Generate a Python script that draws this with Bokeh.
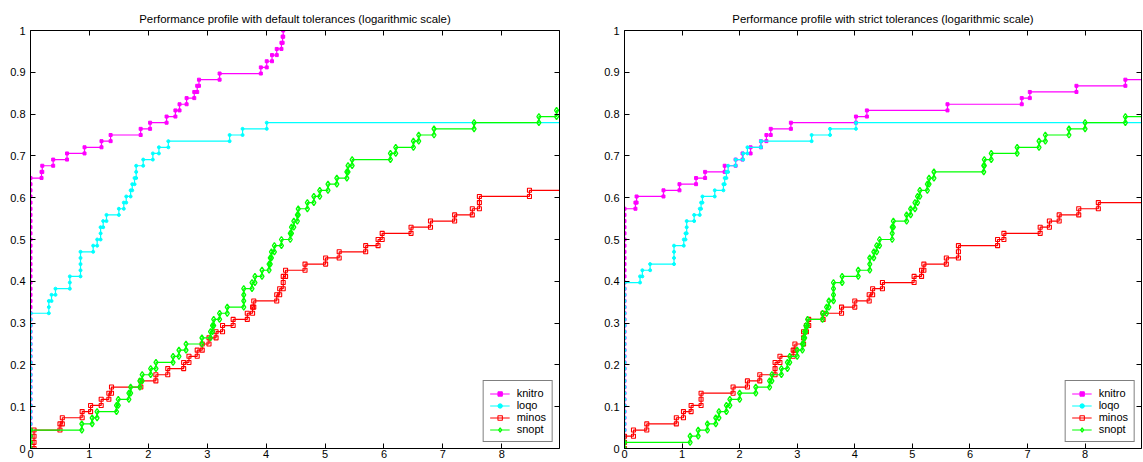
from bokeh.plotting import figure
from bokeh.models import Range1d, LinearAxis, FixedTicker, Legend, LegendItem
from bokeh.layouts import row
from bokeh.embed import file_html
from bokeh.resources import INLINE

N_PROBLEMS = 68
solvers = ["knitro", "loqo", "minos", "snopt"]
solver_colors = ["#ff00ff", "#00ffff", "#ff0000", "#00ff00"]

titles = ["Performance profile with default tolerances (logarithmic scale)",
          "Performance profile with strict tolerances (logarithmic scale)"]

x_ticks_default = [0, 1, 2, 3, 4, 5, 6, 7, 8]
x_ticks_strict = [0, 1, 2, 3, 4, 5, 6, 7, 8, 9]
y_ticks = [0, 0.1, 0.2, 0.3, 0.4, 0.5, 0.6, 0.7, 0.8, 0.9, 1]
y_tick_labels = ["0", "0.1", "0.2", "0.3", "0.4", "0.5", "0.6", "0.7", "0.8", "0.9", "1"]

# ---- default tolerances: log2 ratio where step occurs, cumulative problems solved
knitro_def_x = [0, 0.187, 0.20, 0.385, 0.62, 0.917, 1.205, 1.36, 1.87, 2.03, 2.31, 2.46, 2.53,
                2.65, 2.78, 2.83, 2.86, 3.21, 3.91, 4.01, 4.10, 4.18, 4.26, 4.28, 4.29]
knitro_def_n = [44, 45, 46, 47, 48, 49, 50, 51, 52, 53, 54, 55, 56, 57, 58, 59, 60, 61, 62, 63,
                64, 65, 66, 67, 68]
loqo_def_x = [0, 0.311, 0.357, 0.424, 0.668, 0.849, 1.064, 1.132, 1.19, 1.234, 1.29, 1.50, 1.584,
              1.625, 1.70, 1.727, 1.766, 1.794, 1.913, 2.077, 2.18, 2.34, 3.38, 3.60, 4.01]
loqo_def_n = [22, 24, 25, 26, 28, 32, 33, 34, 36, 37, 38, 39, 40, 41, 42, 43, 44, 46, 47, 48, 49,
              50, 51, 52, 53]
minos_def_x = [0.06, 0.50, 0.54, 0.877, 1.02, 1.20, 1.33, 1.375, 1.873, 2.128, 2.33, 2.60, 2.69,
               2.83, 2.915, 3.03, 3.15, 3.26, 3.44, 3.68, 3.77, 3.79, 4.18, 4.23, 4.29, 4.33, 4.66,
               5.01, 5.24, 5.69, 5.90, 5.97, 6.46, 6.79, 7.20, 7.50, 7.62, 8.47]
minos_def_n = [3, 4, 5, 6, 7, 8, 9, 10, 11, 12, 13, 14, 15, 16, 17, 18, 19, 20, 21, 22, 23, 24,
               25, 26, 28, 29, 30, 31, 32, 33, 34, 35, 36, 37, 38, 39, 41, 42]
snopt_def_x = [0, 0.871, 1.047, 1.13, 1.46, 1.49, 1.67, 1.70, 1.856, 1.896, 2.04, 2.13, 2.42, 2.52,
               2.64, 2.91, 3.056, 3.09, 3.11, 3.21, 3.34, 3.62, 3.76, 3.81, 3.93, 4.05, 4.07, 4.09,
               4.14, 4.26, 4.41, 4.43, 4.47, 4.53, 4.545, 4.70, 4.81, 4.91, 5.05, 5.20, 5.37, 5.39,
               5.46, 6.11, 6.20, 6.50, 6.59, 6.85, 7.53, 8.63, 8.93]
snopt_def_n = [3, 4, 5, 6, 7, 8, 9, 10, 11, 12, 13, 14, 15, 16, 17, 18, 19, 20, 21, 22, 23, 26,
               27, 28, 29, 30, 31, 32, 33, 34, 35, 36, 37, 38, 39, 40, 41, 42, 43, 44, 45, 46, 47,
               48, 49, 50, 51, 52, 53, 54, 55]

# ---- strict tolerances
knitro_str_x = [0, 0.19, 0.21, 0.677, 0.955, 1.243, 1.40, 1.74, 1.93, 2.05, 2.19, 2.37, 2.465,
                2.54, 2.89, 4.02, 4.21, 5.61, 6.90, 7.04, 7.85, 8.70]
knitro_str_n = [39, 40, 41, 42, 43, 44, 45, 46, 47, 48, 49, 50, 51, 52, 53, 54, 55, 56, 57, 58,
                59, 60]
loqo_str_x = [0, 0.27, 0.31, 0.445, 0.86, 1.03, 1.06, 1.08, 1.21, 1.307, 1.33, 1.354, 1.568,
              1.718, 1.74, 1.77, 1.80, 1.93, 2.06, 2.135, 2.37, 3.25, 3.57, 4.02]
loqo_str_n = [27, 28, 29, 30, 33, 34, 35, 37, 38, 39, 40, 41, 42, 43, 44, 45, 46, 47, 48, 49, 50,
              51, 52, 53]
minos_str_x = [0, 0.156, 0.387, 0.90, 1.024, 1.157, 1.33, 1.886, 2.135, 2.35, 2.615, 2.70, 2.93,
               2.96, 3.11, 3.16, 3.20, 3.45, 3.77, 4.00, 4.25, 4.31, 4.48, 5.03, 5.16, 5.20, 5.59,
               5.80, 6.48, 6.59, 7.22, 7.38, 7.55, 7.89, 8.23]
minos_str_n = [2, 3, 4, 5, 6, 7, 9, 10, 11, 12, 14, 15, 16, 17, 19, 20, 21, 22, 23, 24, 25, 26,
               27, 28, 29, 30, 31, 33, 34, 35, 36, 37, 38, 39, 40]
snopt_str_x = [0, 1.14, 1.28, 1.44, 1.585, 1.64, 1.77, 1.83, 2.00, 2.28, 2.52, 2.56, 2.725, 2.83,
               2.87, 3.00, 3.09, 3.11, 3.13, 3.15, 3.18, 3.44, 3.51, 3.55, 3.63, 3.78, 4.06, 4.26,
               4.33, 4.38, 4.43, 4.65, 4.67, 4.90, 4.97, 5.045, 5.09, 5.13, 5.26, 5.29, 5.375,
               6.24, 6.25, 6.37, 6.82, 7.20, 7.31, 7.72, 8.00, 8.70]
snopt_str_n = [1, 2, 3, 4, 5, 6, 7, 8, 9, 10, 11, 12, 13, 14, 15, 16, 17, 18, 19, 20, 21, 22, 23,
               24, 27, 28, 29, 31, 32, 33, 34, 36, 37, 38, 39, 40, 41, 42, 43, 44, 45, 46, 47, 48,
               49, 50, 51, 52, 53, 54]

default_data = [(knitro_def_x, knitro_def_n), (loqo_def_x, loqo_def_n),
                (minos_def_x, minos_def_n), (snopt_def_x, snopt_def_n)]
strict_data = [(knitro_str_x, knitro_str_n), (loqo_str_x, loqo_str_n),
               (minos_str_x, minos_str_n), (snopt_str_x, snopt_str_n)]

X_TAIL = 50.0
FONT = "Liberation Sans"

marker_styles = [
    dict(marker="square", size=3, fill_alpha=1.0, line_width=1),
    dict(marker="circle", size=3, fill_alpha=1.0, line_width=1),
    dict(marker="square", size=4, fill_alpha=0.0, line_width=1.1),
    dict(marker="diamond", size=6, fill_alpha=0.0, line_width=1.3),
]


def stairs(xs, ns):
    lx, ly, mx, my = [xs[0]], [0.0], [], []
    prev = 0
    for i, (x, n) in enumerate(zip(xs, ns)):
        if i > 0:
            lx.append(x)
            ly.append(prev / N_PROBLEMS)
        lx.append(x)
        ly.append(n / N_PROBLEMS)
        for k in range(prev, n + 1):
            mx.append(x)
            my.append(k / N_PROBLEMS)
        prev = n
    lx.append(X_TAIL)
    ly.append(prev / N_PROBLEMS)
    return lx, ly, mx, my


def style_axis(ax, ticks, show_labels=True):
    ax.ticker = FixedTicker(ticks=ticks)
    ax.major_tick_in = 5
    ax.major_tick_out = 0
    ax.minor_tick_in = 0
    ax.minor_tick_out = 0
    ax.axis_line_color = "black"
    ax.axis_line_width = 1
    ax.major_tick_line_color = "black"
    if show_labels:
        ax.major_label_text_font = FONT
        ax.major_label_text_font_size = "11px"
        ax.major_label_text_color = "black"
    else:
        ax.major_label_text_font_size = "1px"
        ax.major_label_text_color = None
        ax.major_label_standoff = 0


def make_panel(title, data, x_end, x_ticks, width, border_right):
    p = figure(width=width, height=462,
               x_range=Range1d(0, x_end), y_range=Range1d(0, 1),
               output_backend="svg", toolbar_location=None,
               min_border_left=30, min_border_right=border_right,
               min_border_top=30, min_border_bottom=14, title=title)
    p.title.text_font = FONT
    p.title.text_font_size = "11.4px"
    p.title.text_font_style = "normal"
    p.title.align = "center"
    p.title.text_color = "black"
    p.title.standoff = 11
    p.outline_line_color = None
    p.xgrid.visible = False
    p.ygrid.visible = False
    p.background_fill_color = "white"
    p.border_fill_color = "white"

    style_axis(p.xaxis[0], x_ticks)
    p.xaxis[0].major_label_standoff = 1
    style_axis(p.yaxis[0], y_ticks)
    p.yaxis[0].major_label_standoff = 5
    p.yaxis[0].major_label_overrides = dict(zip(y_ticks, y_tick_labels))

    top = LinearAxis()
    style_axis(top, x_ticks, show_labels=False)
    p.add_layout(top, "above")
    right = LinearAxis()
    style_axis(right, y_ticks, show_labels=False)
    p.add_layout(right, "right")

    items = []
    for name, color, (xs, ns), ms in zip(solvers, solver_colors, data, marker_styles):
        lx, ly, mx, my = stairs(xs, ns)
        lr = p.line(lx, ly, line_color=color, line_width=1.2)
        sr = p.scatter(mx, my, marker=ms["marker"], size=ms["size"], line_color=color,
                       fill_color=color, fill_alpha=ms["fill_alpha"], line_width=ms["line_width"])
        items.append(LegendItem(label=name, renderers=[lr, sr]))

    legend = Legend(items=items, location="bottom_right",
                    border_line_color="black", border_line_width=1,
                    background_fill_color="white", background_fill_alpha=1.0,
                    label_text_font=FONT, label_text_font_size="11px",
                    label_text_color="black",
                    glyph_width=20, glyph_height=11, label_height=11,
                    spacing=0, padding=6, margin=6, label_standoff=7)
    p.add_layout(legend)
    return p


p1 = make_panel(titles[0], default_data, 8.98, x_ticks_default, 594, 35)
p2 = make_panel(titles[1], strict_data, 8.98, x_ticks_strict, 549, 2)

layout = row(p1, p2)
open("out.html", "w").write(file_html(layout, INLINE))
